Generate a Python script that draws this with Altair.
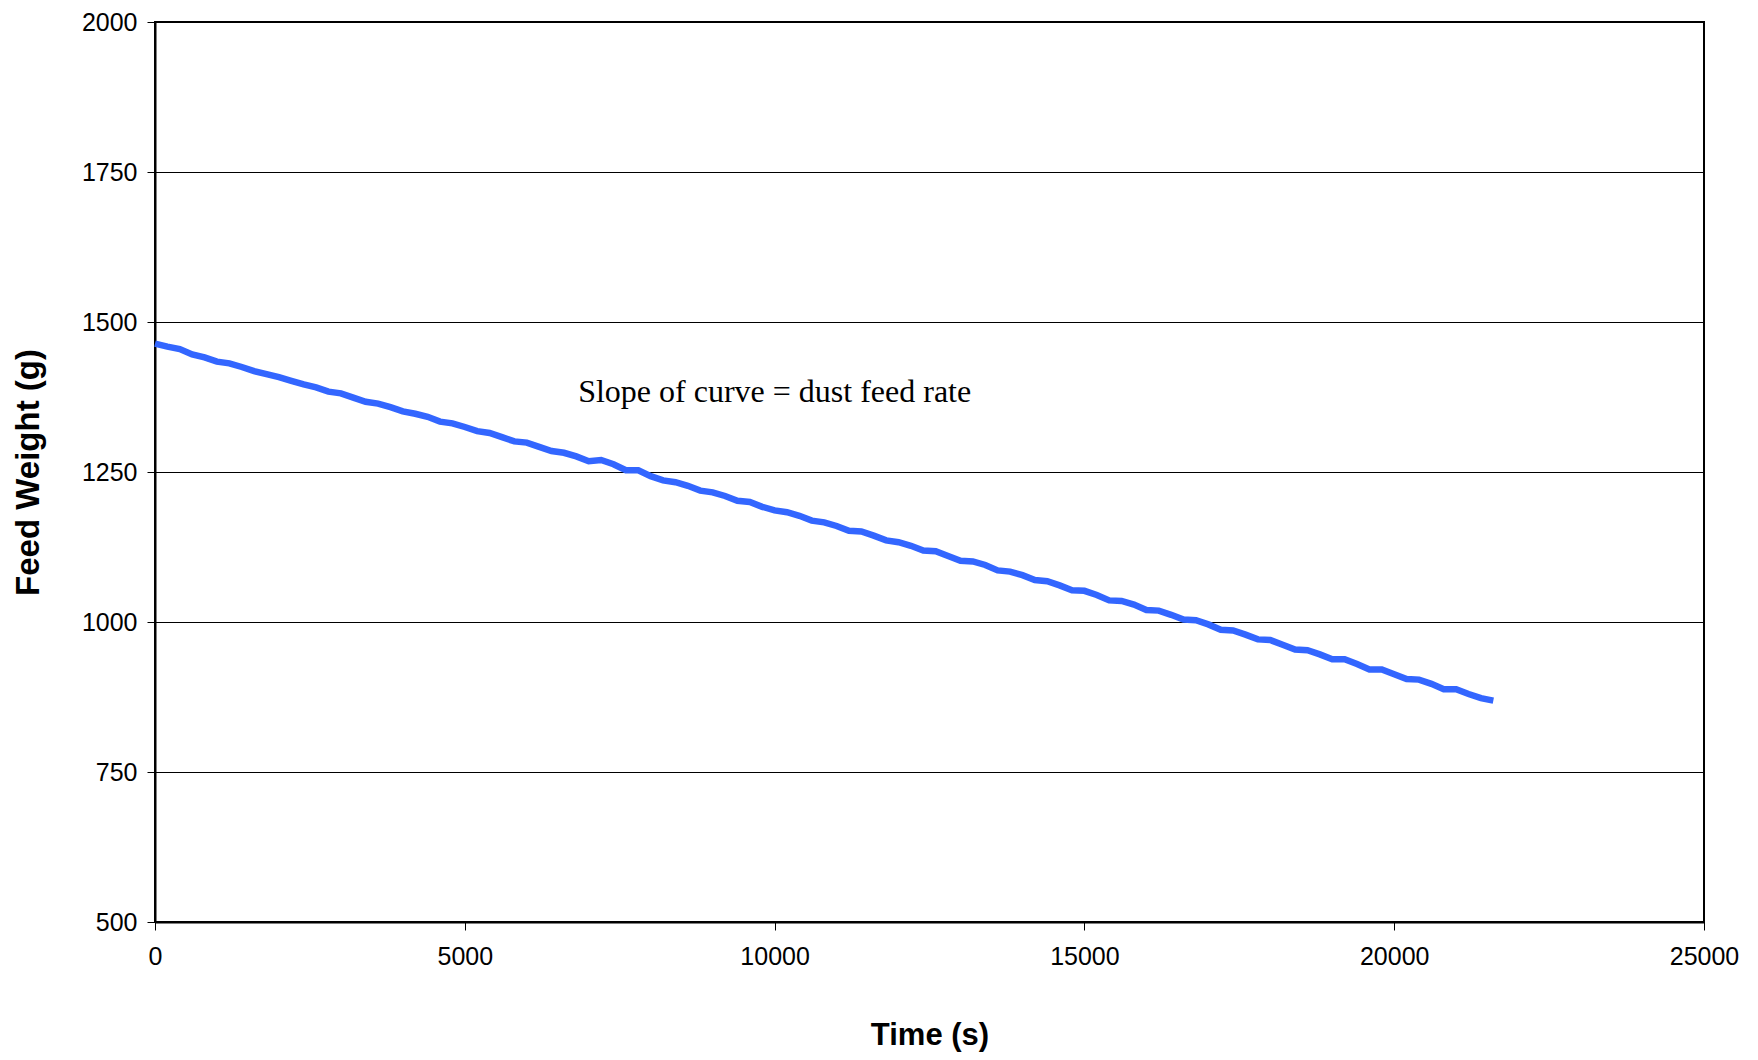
import altair as alt
import pandas as pd

# Time (s), sampled every 200 s
time_s = [i * 200 for i in range(109)]
# Feed weight (g)
weight_g = [
    1464, 1459, 1455, 1446, 1441, 1434, 1431, 1425, 1418, 1413,
    1408, 1402, 1396, 1391, 1384, 1381, 1374, 1367, 1364, 1358,
    1351, 1347, 1342, 1334, 1331, 1325, 1318, 1315, 1308, 1301,
    1299, 1292, 1285, 1282, 1276, 1268, 1270, 1263, 1253, 1253,
    1243, 1236, 1233, 1227, 1219, 1216, 1210, 1202, 1200, 1192,
    1186, 1183, 1177, 1169, 1166, 1160, 1152, 1151, 1144, 1136,
    1133, 1127, 1119, 1118, 1110, 1102, 1101, 1095, 1086, 1084,
    1078, 1070, 1068, 1061, 1053, 1052, 1045, 1036, 1035, 1029,
    1020, 1019, 1012, 1004, 1003, 996, 987, 986, 979, 971,
    970, 962, 954, 953, 946, 938, 938, 930, 921, 921,
    913, 905, 904, 897, 888, 888, 880, 873, 869,
]

x_ticks = [0, 5000, 10000, 15000, 20000, 25000]
y_ticks = [500, 750, 1000, 1250, 1500, 1750, 2000]

note_text = ["Slope of curve = dust feed rate"]
note_x = [6830]
note_y = [1383]

df = pd.DataFrame({"t": time_s, "w": weight_g})
notes = pd.DataFrame({"x": note_x, "y": note_y, "label": note_text})

xscale = alt.Scale(domain=[0, 25000], nice=False, zero=False)
yscale = alt.Scale(domain=[500, 2000], nice=False, zero=False)

line = alt.Chart(df).mark_line(color="#3366ff", strokeWidth=6.5, strokeJoin="miter", strokeCap="butt").encode(
    x=alt.X("t:Q", scale=xscale, title="Time (s)",
            axis=alt.Axis(values=x_ticks, grid=False, format="d", labelFlush=False,
                          labelFont="Liberation Sans", labelFontSize=25, labelColor="#000",
                          labelPadding=14, tickSize=8, tickColor="#000", tickWidth=1,
                          domainColor="#000", domainWidth=2,
                          titleFont="Liberation Sans", titleFontSize=31, titleFontWeight="bold",
                          titleColor="#000", titleX=774.5, titleY=122,
                          titleBaseline="alphabetic", titleAlign="center")),
    y=alt.Y("w:Q", scale=yscale, title="Feed Weight (g)",
            axis=alt.Axis(values=y_ticks, grid=True, gridColor="#000", gridWidth=1, format="d",
                          labelFlush=False,
                          labelFont="Liberation Sans", labelFontSize=25, labelColor="#000",
                          labelPadding=10, tickSize=8, tickColor="#000", tickWidth=1,
                          domainColor="#000", domainWidth=2,
                          titleFont="Liberation Sans", titleFontSize=33, titleFontWeight="bold",
                          titleColor="#000", titleX=-127, titleY=450, titleAngle=-90,
                          titleBaseline="middle", titleAlign="center")),
)

note = alt.Chart(notes).mark_text(
    font="Liberation Serif", fontSize=32, align="left", baseline="middle", color="#000"
).encode(
    x=alt.X("x:Q", scale=xscale),
    y=alt.Y("y:Q", scale=yscale),
    text="label:N",
)

chart = alt.layer(line, note).properties(
    width=1549,
    height=900,
    autosize=alt.AutoSizeParams(type="none"),
    padding={"left": 147, "top": 14, "right": 40, "bottom": 130},
    background="#ffffff",
).configure_view(stroke="#000", strokeWidth=2)

chart.save("out.html", embed_options={"renderer": "svg", "actions": False})
